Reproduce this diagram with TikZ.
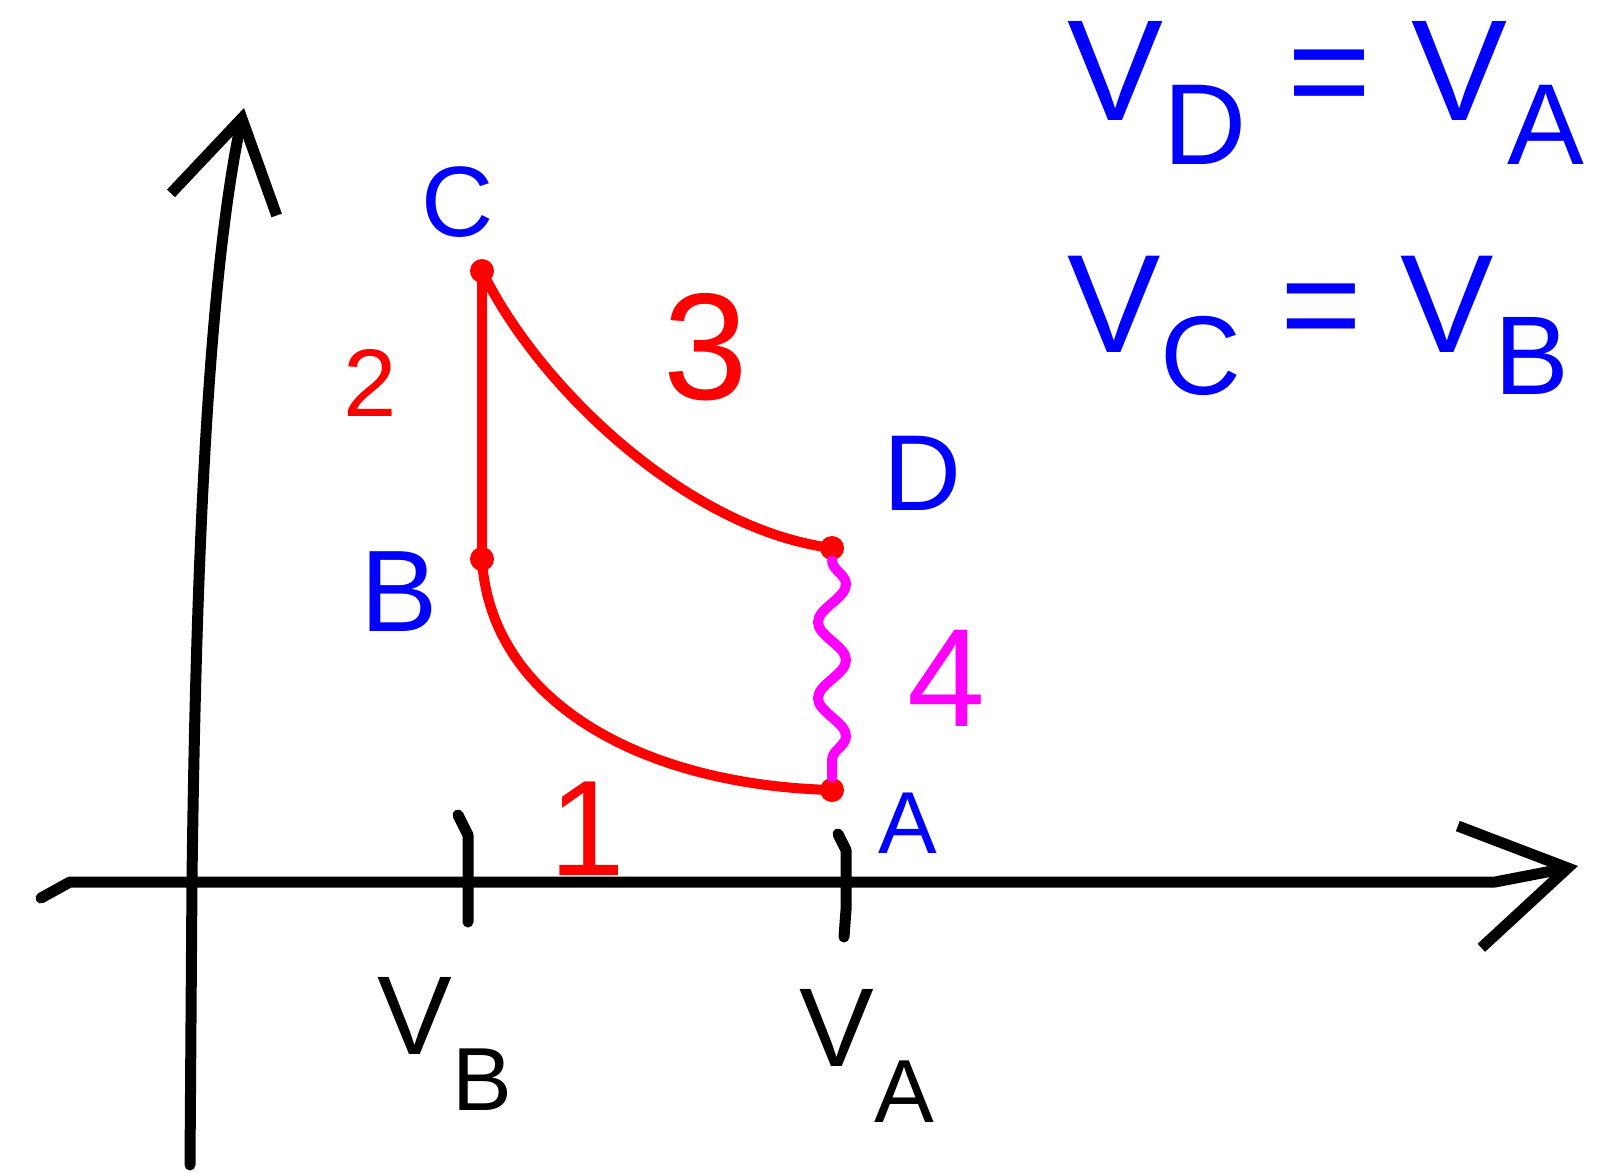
\documentclass[tikz,border=0pt]{standalone}
\usepackage{fontspec}
\setmainfont{Liberation Sans}
\definecolor{penblue}{HTML}{0000FF}
\definecolor{penred}{HTML}{FF0000}
\definecolor{penmagenta}{HTML}{FF00FF}
\usetikzlibrary{
  arrows.meta,
  decorations.pathmorphing
}
\newcommand{\lowsub}[2][0.3em]{\raisebox{-#1}{\scalebox{0.8}{#2}}}

\begin{document}
\begin{tikzpicture}[
  x=0.5pt, y=-0.5pt,
  axisline/.style={line width=5.5pt, black, line cap=round, line join=round},
  stroke/.style={line width=5pt, penred, line cap=round},
  corner/.style={circle, fill=penred, inner sep=0pt, minimum size=12pt},
  lbl/.style={inner sep=0pt, font=\fontsize{#1}{#1}\selectfont}
]
\useasboundingbox (0,0) rectangle (1624,1173);

% axes
\coordinate (ybot) at (190,1165);
\coordinate (ytop) at (244,108);
\coordinate (xleft) at (41,898);
\coordinate (xright) at (1578,866);
\draw[axisline, -{Straight Barb[length=44pt, width=54pt]}]
  (ybot) -- (192,880) .. controls (196,560) and (208,280) .. (ytop);
\draw[axisline, -{Straight Barb[length=50pt, width=62pt]}]
  (xleft) -- (70,882) -- (1495,882) -- (xright);

% ticks
\draw[axisline] (458,815) -- (468,835) -- (468,922);
\draw[axisline] (838,834) -- (846,850) -- (846,910) -- (844,937);

% states
\node[corner] (C) at (482,271) {};
\node[corner] (B) at (482,559) {};
\node[corner] (D) at (832,548) {};
\node[corner] (A) at (832,790) {};

% processes
\draw[stroke] (C.center) -- (B.center);
\draw[stroke] (C.center) .. controls (540,390) and (690,530) .. (D.center);
\draw[stroke] (B.center) .. controls (490,700) and (640,785) .. (A.center);
\draw[line width=5pt, penmagenta, line cap=round, decorate,
  decoration={snake, amplitude=7pt, segment length=38pt}] (D.south) -- (A.north);

% labels
\node[lbl=50, penblue] (labC) at (458,202) {C};
\node[lbl=58, penblue] (labB) at (399,592) {B};
\node[lbl=54, penblue] (labD) at (922,473) {D};
\node[lbl=44, penblue] (labA) at (908,823) {A};
\node[lbl=68, penred] (n1) at (587,829) {1};
\node[lbl=48, penred] (n2) at (370,383) {2};
\node[lbl=76, penred] (n3) at (706,347) {3};
\node[lbl=70, penmagenta] (n4) at (946,678) {4};

\node[lbl=56] (vB) at (445,1044) {V\lowsub[0.5em]{B}};
\node[lbl=56] (vA) at (867,1056) {V\lowsub[0.5em]{A}};

\node[lbl=72, penblue] (eqDA) at (1326,93) {V\lowsub{D} = V\lowsub{A}};
\node[lbl=70, penblue] (eqCB) at (1318,326) {V\lowsub{C} = V\lowsub{B}};

\end{tikzpicture}
\end{document}
